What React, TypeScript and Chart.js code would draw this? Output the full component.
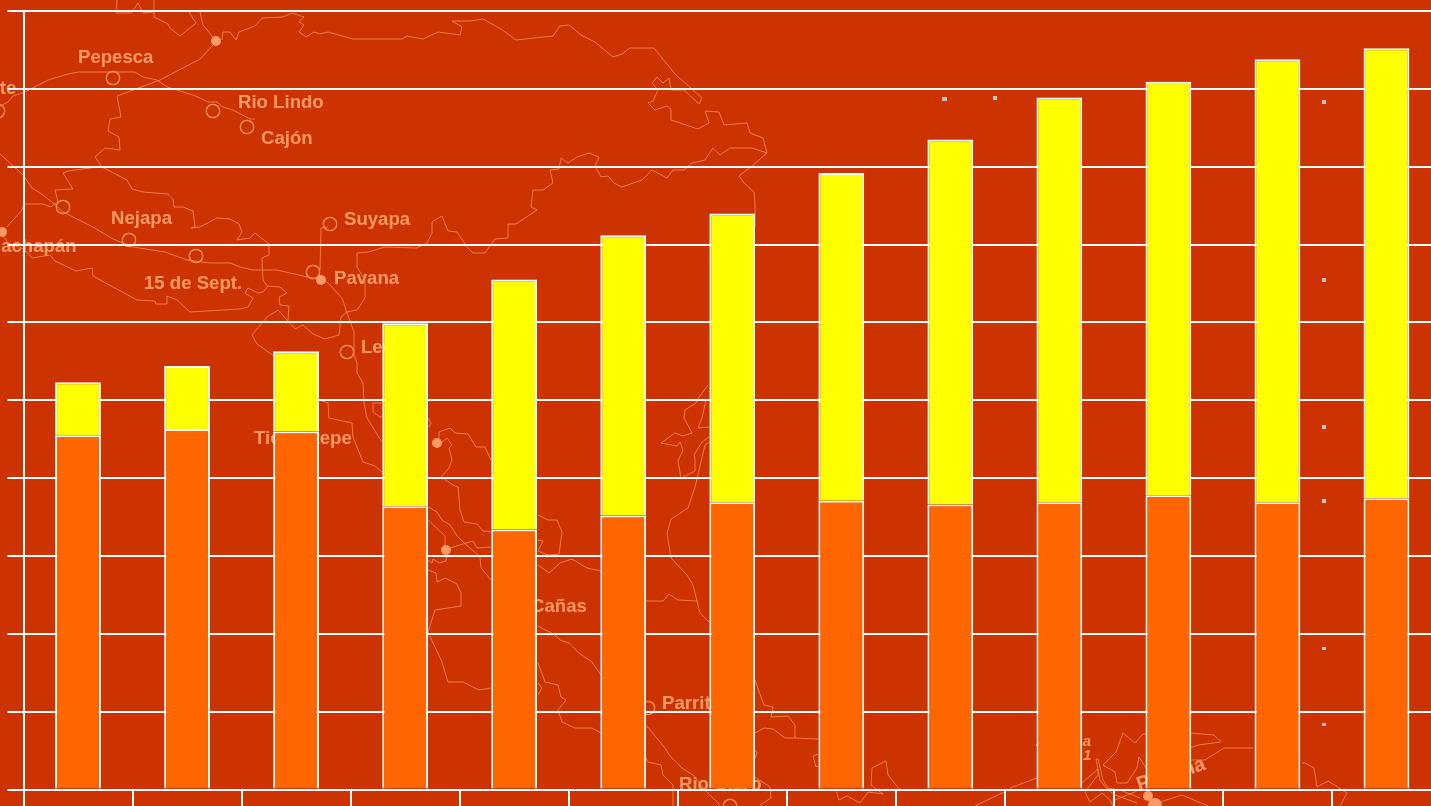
import { useEffect, useRef } from "react";
import { Chart, registerables } from "chart.js";

Chart.register(...registerables);

// Thirteen consecutive periods, unlabelled on the axis.
const periods = ["1", "2", "3", "4", "5", "6", "7", "8", "9", "10", "11", "12", "13"];
const lowerSeries = [455, 463, 460, 364, 334, 352, 369, 371, 366, 369, 378, 369, 374];
const upperSeries = [68, 81, 103, 235, 321, 360, 371, 421, 469, 520, 531, 569, 578];
const yTickStep = 100;
const yMax = 1000;

const BACKGROUND = "#CC3300";
const LOWER_COLOR = "#FF6600";
const UPPER_COLOR = "#FFFF00";
const MAP_COLOR = "#FF9966";
const CANVAS_WIDTH = 1441;
const CANVAS_HEIGHT = 806;

type Pt = [number, number];

// Outlines of the backdrop map of Central America, in canvas pixels.
const mapLines: Pt[][] = [
  [[117, 0], [116, 13], [131, 13], [138, 3], [143, 13], [154, 12]],
  [[154, 0], [154, 17], [168, 24], [170, 28], [180, 36], [196, 23], [189, 12]],
  [[200, 12], [203, 25], [216, 41]],
  [[213, 45], [200, 59], [160, 80], [117, 96], [121, 117], [110, 119], [108, 131], [119, 137], [120, 150], [105, 148], [95, 157], [102, 167], [127, 180], [132, 189], [143, 192], [168, 194], [173, 199], [174, 207], [183, 207], [193, 211], [195, 227], [191, 228], [200, 227], [217, 218], [230, 219], [239, 224], [242, 232], [237, 240], [250, 238], [255, 233], [269, 244], [269, 255], [262, 258], [263, 280], [267, 286], [280, 287], [287, 293], [279, 297], [280, 305], [289, 306], [288, 321], [295, 329], [303, 325], [313, 334], [325, 339], [339, 335], [341, 317], [347, 312], [357, 310], [365, 298], [365, 280], [357, 267], [357, 253], [368, 252], [385, 247], [417, 248], [427, 243], [432, 233], [432, 222], [442, 216], [448, 231], [457, 232], [467, 247], [473, 253], [485, 253], [495, 239], [508, 238], [508, 224], [516, 224], [537, 210], [531, 207], [533, 190], [543, 190], [553, 183], [550, 170], [559, 169], [561, 158], [568, 163], [577, 157], [589, 153], [599, 157], [595, 166], [601, 177], [608, 176], [614, 183], [622, 187], [642, 180], [652, 170], [667, 178], [673, 170], [684, 170], [692, 163], [705, 160], [713, 148], [720, 155], [730, 148], [752, 148], [767, 153], [763, 138], [750, 133], [747, 123], [724, 125], [719, 112], [705, 111], [709, 123], [698, 129], [671, 120], [671, 109], [667, 106], [655, 110], [648, 103], [653, 101], [658, 90], [652, 83], [657, 77], [663, 83], [669, 78], [671, 90], [684, 90], [699, 104], [702, 98], [675, 74], [654, 48], [630, 48], [622, 54], [613, 57], [595, 42], [581, 35], [569, 25], [560, 26], [553, 36], [516, 40], [501, 29], [483, 19], [470, 21], [452, 21], [462, 27], [460, 35], [438, 32], [423, 39], [407, 36], [402, 39], [353, 39], [328, 32], [320, 34], [314, 32], [306, 37], [299, 32], [304, 25], [299, 22], [304, 17], [292, 13], [283, 17], [262, 18], [255, 26], [239, 32], [236, 40], [230, 32], [223, 32], [222, 40]],
  [[767, 153], [752, 166], [739, 176], [745, 184], [754, 192], [755, 203], [755, 227]],
  [[0, 106], [8, 102], [13, 96], [27, 91], [48, 80], [68, 74], [78, 72], [135, 72], [143, 77], [157, 80], [167, 87], [193, 95], [200, 98], [208, 102], [217, 102], [223, 107], [233, 110], [250, 119], [255, 119]],
  [[7, 227], [22, 210], [24, 204], [43, 204], [51, 207], [57, 202]],
  [[58, 202], [55, 190], [73, 189], [63, 173], [68, 171], [97, 167]],
  [[0, 154], [23, 175], [32, 188], [43, 195], [53, 203], [63, 212], [85, 223], [93, 227], [113, 239], [133, 247], [165, 252], [187, 260], [210, 263], [230, 263], [240, 267], [253, 270], [277, 270], [303, 276], [317, 279], [327, 282], [342, 298], [346, 310], [354, 332], [354, 355], [357, 363], [357, 373], [363, 383], [364, 403], [367, 418], [382, 442]],
  [[319, 400], [328, 403], [329, 418], [352, 423], [353, 437], [363, 462], [375, 466], [382, 472]],
  [[382, 403], [373, 403], [373, 412], [380, 417], [382, 417]],
  [[3, 235], [8, 243], [24, 249], [32, 258], [50, 255], [55, 261], [76, 271], [92, 268], [93, 276], [113, 287], [137, 300], [155, 301], [156, 304], [167, 304], [167, 296], [177, 300], [190, 312], [240, 309], [248, 307], [253, 298], [245, 293], [248, 288], [258, 293], [263, 292], [268, 286]],
  [[320, 270], [321, 228], [328, 227]],
  [[278, 310], [267, 317], [252, 335], [257, 344], [274, 356]],
  [[278, 310], [288, 321]],
  [[428, 418], [431, 423], [429, 427]],
  [[437, 443], [439, 438], [439, 432], [450, 428], [455, 433], [468, 434], [476, 447], [485, 447], [491, 460]],
  [[442, 442], [447, 438], [452, 445], [449, 448], [452, 460], [449, 468], [441, 477], [453, 485], [458, 487], [460, 510], [464, 522], [477, 524], [483, 531], [491, 532]],
  [[428, 507], [437, 512], [442, 520], [450, 525], [458, 537], [470, 548], [480, 557], [481, 568], [491, 580]],
  [[428, 520], [445, 536], [445, 546]],
  [[450, 548], [473, 541], [477, 548], [491, 547]],
  [[447, 553], [446, 561], [439, 563], [433, 559], [432, 563], [428, 560]],
  [[428, 570], [436, 573], [437, 582], [445, 578], [457, 584], [461, 593], [461, 606], [435, 610], [428, 632], [442, 662], [448, 682], [463, 682], [479, 690], [491, 688]],
  [[538, 515], [548, 520], [557, 520], [562, 532], [559, 554], [548, 555], [538, 551], [543, 541], [538, 540]],
  [[538, 565], [549, 573], [560, 563], [572, 559], [587, 568], [601, 571]],
  [[538, 626], [555, 635], [560, 640], [569, 643], [579, 653], [592, 662], [601, 675]],
  [[538, 663], [545, 682], [558, 685], [561, 697], [566, 700], [558, 710], [562, 722], [575, 728], [592, 728], [601, 733]],
  [[538, 683], [542, 688], [538, 695]],
  [[708, 385], [697, 400], [696, 403], [685, 410], [684, 418], [692, 433], [683, 436], [675, 433], [661, 443], [677, 446], [680, 442], [683, 450], [678, 461], [681, 478], [695, 471], [695, 458], [694, 455], [702, 442], [709, 437]],
  [[706, 400], [702, 418], [698, 428], [709, 427]],
  [[709, 442], [705, 445], [695, 487], [688, 508], [671, 519], [667, 533], [671, 558], [687, 575], [693, 585], [700, 613], [709, 622]],
  [[646, 601], [663, 601], [669, 594], [678, 600], [697, 601]],
  [[646, 725], [665, 748], [670, 756], [682, 768], [693, 775], [705, 790], [720, 805]],
  [[646, 758], [648, 762], [661, 765], [663, 775], [673, 785], [673, 806]],
  [[755, 680], [761, 697], [764, 705], [773, 707], [771, 717], [788, 716], [795, 725], [795, 738], [818, 739]],
  [[755, 733], [764, 728], [773, 729], [785, 738], [795, 738]],
  [[755, 750], [757, 753], [755, 758]],
  [[755, 777], [770, 787], [771, 798], [760, 805]],
  [[818, 754], [813, 756], [816, 767], [818, 766]],
  [[886, 761], [872, 768], [871, 785], [883, 794], [868, 792], [860, 803], [847, 796], [839, 800], [836, 790]],
  [[886, 761], [888, 775], [900, 790]],
  [[975, 806], [1004, 792]],
  [[1010, 788], [1037, 778]],
  [[1146, 734], [1143, 734], [1135, 743], [1123, 733], [1116, 752], [1103, 765], [1115, 772], [1117, 783], [1127, 783], [1137, 768], [1139, 757], [1146, 768]],
  [[1096, 759], [1098, 759], [1103, 780], [1108, 788], [1120, 790], [1140, 798]],
  [[1096, 759], [1100, 780], [1107, 789], [1115, 795], [1137, 803]],
  [[1082, 783], [1098, 769], [1098, 775], [1085, 792], [1090, 802], [1102, 793], [1110, 800], [1113, 806]],
  [[1115, 800], [1137, 791]],
  [[1190, 733], [1214, 735], [1221, 742], [1198, 745], [1190, 748]],
  [[1190, 760], [1205, 760], [1224, 748], [1253, 748]],
  [[1302, 763], [1305, 763], [1314, 768], [1317, 787], [1328, 781], [1347, 793], [1340, 806]],
  [[1160, 802], [1182, 795], [1208, 806]],
];

// Towns: open rings for small places, solid discs for larger ones.
const openTowns: Pt[] = [[113, 78], [213, 111], [247, 127], [63, 207], [129, 240], [196, 256], [330, 224], [313, 272], [347, 352], [-2, 111], [648, 708], [730, 806]];
const solidTowns: [number, number, number][] = [[216, 41, 5], [2, 232, 5], [321, 280, 5], [437, 443, 5], [446, 550, 5], [1148, 796, 5], [1155, 805, 7]];

const townLabels: [string, number, number][] = [
  ["Pepesca", 78, 63],
  ["Tiquisate", -65, 94],
  ["Rio Lindo", 238, 108],
  ["Cajón", 261, 144],
  ["Nejapa", 111, 224],
  ["Suyapa", 344, 225],
  ["Ahuachapán", -35, 252],
  ["15 de Sept.", 144, 289],
  ["Pavana", 334, 284],
  ["León", 361, 353],
  ["Ticuantepe", 254, 444],
  ["Cañas", 531, 612],
  ["Parrita", 662, 709],
  ["Rio Claro", 679, 790],
];

const greyMarkers: [number, number, number, number][] = [
  [942, 97, 5, 4], [993, 96, 4, 4], [1322, 100, 4, 4], [1322, 278, 4, 4],
  [1322, 425, 4, 4], [1322, 499, 4, 4], [1322, 647, 4, 3], [1322, 723, 4, 3],
];

// Paints the backdrop before the scales, so grid lines and bars sit on top of it.
const mapBackdrop = {
  id: "mapBackdrop",
  beforeDraw(chart: Chart) {
    const ctx = chart.ctx;
    ctx.save();
    ctx.fillStyle = BACKGROUND;
    ctx.fillRect(0, 0, chart.width, chart.height);

    ctx.strokeStyle = MAP_COLOR;
    ctx.globalAlpha = 0.7;
    ctx.lineWidth = 1;
    ctx.lineJoin = "round";
    for (const line of mapLines) {
      ctx.beginPath();
      line.forEach(([x, y], i) => (i ? ctx.lineTo(x, y) : ctx.moveTo(x, y)));
      ctx.stroke();
    }
    ctx.globalAlpha = 1;
    ctx.lineWidth = 1.2;
    for (const [x, y] of openTowns) {
      ctx.beginPath();
      ctx.arc(x, y, 6.7, 0, Math.PI * 2);
      ctx.stroke();
    }
    ctx.fillStyle = MAP_COLOR;
    for (const [x, y, r] of solidTowns) {
      ctx.beginPath();
      ctx.arc(x, y, r, 0, Math.PI * 2);
      ctx.fill();
    }

    ctx.textBaseline = "alphabetic";
    ctx.textAlign = "left";
    ctx.font = 'bold 18.6px "Liberation Sans"';
    for (const [text, x, y] of townLabels) ctx.fillText(text, x, y);

    ctx.save();
    ctx.translate(1139, 791);
    ctx.rotate((-18 * Math.PI) / 180);
    ctx.font = 'bold 20px "Liberation Sans"';
    ctx.fillText("Pavona", 0, 0);
    ctx.restore();

    ctx.font = 'italic bold 15px "Liberation Sans"';
    ctx.fillText("Ancona", 1036, 746);
    ctx.fillText("1", 1083, 760);

    ctx.fillStyle = "#C4C4C4";
    for (const [x, y, w, h] of greyMarkers) ctx.fillRect(x, y, w, h);
    ctx.restore();
  },
};

export default function App() {
  const canvasRef = useRef<HTMLCanvasElement>(null);

  useEffect(() => {
    const canvas = canvasRef.current;
    if (!canvas) return;
    const chart = new Chart(canvas, {
      type: "bar",
      data: {
        labels: periods,
        datasets: [
          { label: "Lower", data: lowerSeries, backgroundColor: LOWER_COLOR, borderColor: "#FFFFFF", borderWidth: 2 },
          { label: "Upper", data: upperSeries, backgroundColor: UPPER_COLOR, borderColor: "#FFFFFF", borderWidth: 2 },
        ],
      },
      plugins: [mapBackdrop],
      options: {
        responsive: false,
        animation: false,
        events: [],
        layout: { padding: { top: 11, left: 0, right: 0, bottom: 0 } },
        datasets: { bar: { categoryPercentage: 0.42, barPercentage: 1 } },
        plugins: { legend: { display: false }, tooltip: { enabled: false }, title: { display: false } },
        scales: {
          x: {
            stacked: true,
            offset: true,
            afterFit: (scale: any) => { scale.height = 16.5; },
            grid: { offset: true, color: "#FFFFFF", lineWidth: 2, drawOnChartArea: false, drawTicks: true, tickLength: 17 },
            border: { color: "#FFFFFF", width: 2 },
            ticks: { display: false },
          },
          y: {
            stacked: true,
            min: 0,
            max: yMax,
            afterFit: (scale: any) => { scale.width = 23.5; },
            grid: { color: "#FFFFFF", lineWidth: 2, tickLength: 16 },
            border: { color: "#FFFFFF", width: 2 },
            ticks: { display: false, stepSize: yTickStep },
          },
        },
      },
    });
    return () => chart.destroy();
  }, []);

  return (
    <div style={{ position: "fixed", left: 0, top: 0, width: 1431, height: 806, overflow: "hidden", background: BACKGROUND }}>
      <canvas ref={canvasRef} width={CANVAS_WIDTH} height={CANVAS_HEIGHT} style={{ display: "block" }} />
    </div>
  );
}
